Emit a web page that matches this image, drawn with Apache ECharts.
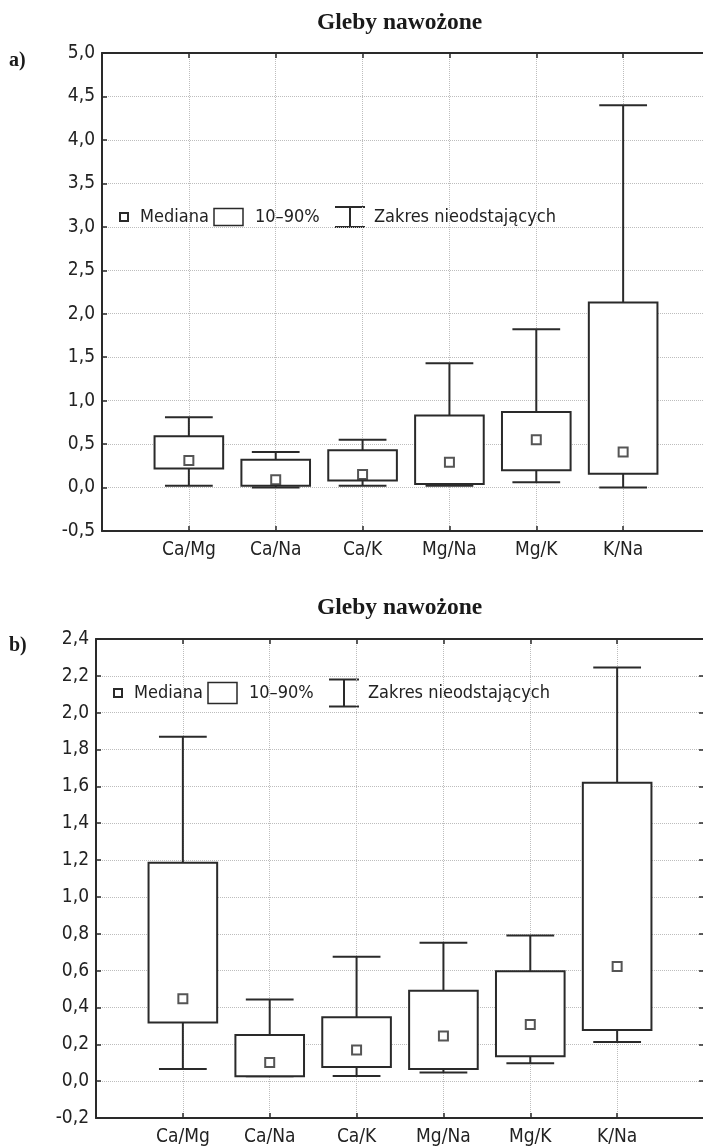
<!DOCTYPE html>
<html>
<head>
<meta charset="utf-8">
<script src="https://cdn.jsdelivr.net/npm/echarts@6/dist/echarts.min.js"></script>
<style>
  html, body { margin: 0; padding: 0; background: #fff; }
  #chart { width: 703px; height: 1147px; }
</style>
</head>
<body>
<div id="chart"></div>
<script>
// Ratio categories shared by both panels
const categories = ['Ca/Mg', 'Ca/Na', 'Ca/K', 'Mg/Na', 'Mg/K', 'K/Na'];

// Panel a) – non-outlier range, 10th/90th percentiles and medians
const lowA    = [0.02, 0.00, 0.02, 0.02, 0.06, 0.00];
const p10A    = [0.22, 0.02, 0.08, 0.04, 0.20, 0.16];
const medianA = [0.31, 0.09, 0.15, 0.29, 0.55, 0.41];
const p90A    = [0.59, 0.32, 0.43, 0.83, 0.87, 2.13];
const highA   = [0.81, 0.41, 0.55, 1.43, 1.82, 4.40];

// Panel b)
const lowB    = [0.066, 0.027, 0.028, 0.047, 0.097, 0.213];
const p10B    = [0.318, 0.027, 0.077, 0.066, 0.135, 0.278];
const medianB = [0.447, 0.101, 0.169, 0.245, 0.307, 0.622];
const p90B    = [1.185, 0.251, 0.347, 0.491, 0.597, 1.620];
const highB   = [1.870, 0.443, 0.675, 0.751, 0.791, 2.245];

// Value-axis ranges and tick steps
const yRangeA = [-0.5, 5.0];
const yStepA  = 0.5;
const yRangeB = [-0.2, 2.4];
const yStepB  = 0.2;

// Text shown on the chart
const titleText = 'Gleby nawożone';
const panelTags = ['a)', 'b)'];
const legendTexts = ['Mediana', '10–90%', 'Zakres nieodstających'];

const INK = '#2a2a2a';
const GRID_COLOR = '#bdbdbd';
const FONT = "'DejaVu Sans Condensed', 'Liberation Sans', sans-serif";
const SERIF = "'Liberation Serif', 'Times New Roman', serif";
const BOX_W = 0.79;   // box width in category units
const CAP_W = 0.55;   // whisker cap width in category units

const fmtNum = v => v.toFixed(1).replace('.', ',');

function renderWhisker(params, api) {
  const x = api.value(0);
  const pLow = api.coord([x, api.value(1)]);
  const pBot = api.coord([x, api.value(2)]);
  const pTop = api.coord([x, api.value(3)]);
  const pHigh = api.coord([x, api.value(4)]);
  const half = api.size([CAP_W, 0])[0] / 2;
  const style = { stroke: INK, lineWidth: 2, fill: null };
  return {
    type: 'group',
    children: [
      { type: 'line', shape: { x1: pLow[0], y1: pLow[1], x2: pBot[0], y2: pBot[1] }, style },
      { type: 'line', shape: { x1: pTop[0], y1: pTop[1], x2: pHigh[0], y2: pHigh[1] }, style },
      { type: 'line', shape: { x1: pLow[0] - half, y1: pLow[1], x2: pLow[0] + half, y2: pLow[1] }, style },
      { type: 'line', shape: { x1: pHigh[0] - half, y1: pHigh[1], x2: pHigh[0] + half, y2: pHigh[1] }, style }
    ]
  };
}

function renderBox(params, api) {
  const x = api.value(0);
  const pBot = api.coord([x, api.value(1)]);
  const pTop = api.coord([x, api.value(2)]);
  const w = api.size([BOX_W, 0])[0];
  return {
    type: 'rect',
    shape: { x: pTop[0] - w / 2, y: pTop[1], width: w, height: pBot[1] - pTop[1] },
    style: { fill: '#fff', stroke: INK, lineWidth: 2 }
  };
}

// Key with the three mark types; icon sizes differ slightly between panels
function buildLegend(x, y, boxH, whiskH) {
  const ts = { fontFamily: FONT, fontSize: 18, fill: '#222', verticalAlign: 'middle' };
  const ln = { stroke: INK, lineWidth: 2 };
  const wh = whiskH / 2;
  return {
    type: 'group', x, y, silent: true,
    children: [
      { type: 'rect', shape: { x: -4, y: -4, width: 8, height: 8 }, style: { fill: '#fff', stroke: INK, lineWidth: 2 } },
      { type: 'text', x: 16, y: 0, style: Object.assign({ text: legendTexts[0] }, ts) },
      { type: 'rect', shape: { x: 90, y: -boxH / 2, width: 29, height: boxH }, style: { fill: '#fff', stroke: INK, lineWidth: 1.5 } },
      { type: 'text', x: 131, y: 0, style: Object.assign({ text: legendTexts[1] }, ts) },
      { type: 'line', shape: { x1: 211, y1: -wh, x2: 241, y2: -wh }, style: ln },
      { type: 'line', shape: { x1: 226, y1: -wh, x2: 226, y2: wh }, style: ln },
      { type: 'line', shape: { x1: 211, y1: wh, x2: 241, y2: wh }, style: ln },
      { type: 'text', x: 250, y: 0, style: Object.assign({ text: legendTexts[2] }, ts) }
    ]
  };
}

const panels = [
  { grid: { left: 102, top: 53, width: 608, height: 478 }, range: yRangeA, step: yStepA,
    low: lowA, p10: p10A, med: medianA, p90: p90A, high: highA,
    legendY: 217, boxH: 17, whiskH: 20 },
  { grid: { left: 96, top: 639, width: 608, height: 479 }, range: yRangeB, step: yStepB,
    low: lowB, p10: p10B, med: medianB, p90: p90B, high: highB,
    legendY: 693, boxH: 21, whiskH: 27 }
];

const option = {
  animation: false,
  backgroundColor: '#fff',
  title: [],
  grid: [],
  xAxis: [],
  yAxis: [],
  series: [],
  graphic: []
};

const titleTops = [11, 596];
const tagTops = [51, 636];

panels.forEach((p, i) => {
  const frame = { show: true, onZero: false, lineStyle: { color: INK, width: 2 } };
  const tick = { show: true, inside: true, length: 5, lineStyle: { color: INK, width: 1.5 } };
  const dotted = { show: true, lineStyle: { type: 'dotted', color: GRID_COLOR, width: 1 } };

  option.grid.push(Object.assign({ containLabel: false, outerBoundsMode: 'none' }, p.grid));

  option.xAxis.push(
    { type: 'value', gridIndex: i, min: 0, max: categories.length + 1, interval: 1, position: 'bottom',
      axisLine: frame, axisTick: tick, splitLine: dotted,
      axisLabel: { formatter: v => categories[v - 1] || '', fontFamily: FONT, fontSize: 19, color: '#222', margin: 10 } },
    { type: 'value', gridIndex: i, min: 0, max: categories.length + 1, interval: 1, position: 'top',
      axisLine: frame, axisTick: tick, splitLine: { show: false }, axisLabel: { show: false } }
  );

  option.yAxis.push(
    { type: 'value', gridIndex: i, min: p.range[0], max: p.range[1], interval: p.step, position: 'left',
      axisLine: frame, axisTick: tick, splitLine: dotted,
      axisLabel: { formatter: fmtNum, fontFamily: FONT, fontSize: 19, color: '#222', margin: 7 } },
    { type: 'value', gridIndex: i, min: p.range[0], max: p.range[1], interval: p.step, position: 'right',
      axisLine: frame, axisTick: tick, splitLine: { show: false }, axisLabel: { show: false } }
  );

  const xi = i * 2, yi = i * 2;
  option.series.push(
    { type: 'custom', name: legendTexts[2], xAxisIndex: xi, yAxisIndex: yi, renderItem: renderWhisker,
      data: categories.map((c, k) => [k + 1, p.low[k], p.p10[k], p.p90[k], p.high[k]]), z: 2 },
    { type: 'custom', name: legendTexts[1], xAxisIndex: xi, yAxisIndex: yi, renderItem: renderBox,
      data: categories.map((c, k) => [k + 1, p.p10[k], p.p90[k]]), z: 3 },
    { type: 'scatter', name: legendTexts[0], xAxisIndex: xi, yAxisIndex: yi, symbol: 'rect', symbolSize: 9,
      itemStyle: { color: '#fff', borderColor: INK, borderWidth: 2 },
      data: categories.map((c, k) => [k + 1, p.med[k]]), z: 4 }
  );

  option.title.push(
    { text: titleText, left: 317, top: titleTops[i], padding: 0,
      textStyle: { fontFamily: SERIF, fontWeight: 'bold', fontSize: 23.5, color: '#1a1a1a' } },
    { text: panelTags[i], left: 9, top: tagTops[i], padding: 0,
      textStyle: { fontFamily: SERIF, fontWeight: 'bold', fontSize: 20, color: '#1a1a1a' } }
  );

  option.graphic.push(buildLegend(p.grid.left + 22, p.legendY, p.boxH, p.whiskH));
});

const chart = echarts.init(document.getElementById('chart'), null, { renderer: 'canvas' });
chart.setOption(option);
</script>
</body>
</html>
